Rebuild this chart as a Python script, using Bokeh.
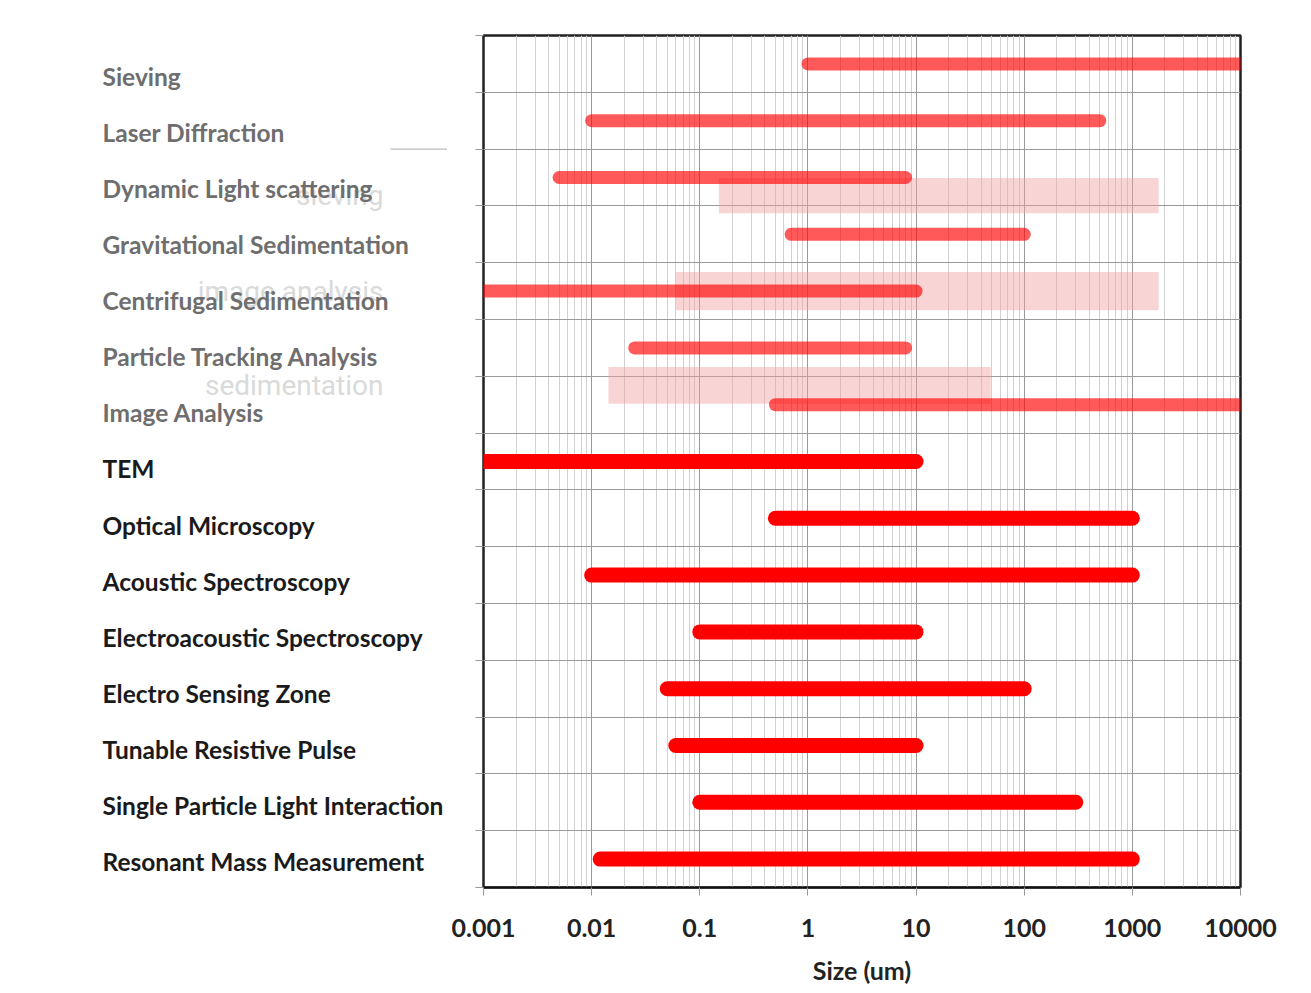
from bokeh.plotting import figure
from bokeh.models import Range1d, FixedTicker, CustomJSTickFormatter, ColumnDataSource
from bokeh.layouts import row
from bokeh.embed import file_html
from bokeh.resources import INLINE
from bokeh.core.properties import value

# ---------------- data ----------------
methods = [
    "Sieving", "Laser Diffraction", "Dynamic Light scattering",
    "Gravitational Sedimentation", "Centrifugal Sedimentation",
    "Particle Tracking Analysis", "Image Analysis",
    "TEM", "Optical Microscopy", "Acoustic  Spectroscopy",
    "Electroacoustic Spectroscopy", "Electro Sensing Zone",
    "Tunable Resistive Pulse", "Single Particle Light Interaction",
    "Resonant Mass  Measurement",
]
size_min = [1, 0.01, 0.005, 0.7, 0.001, 0.025, 0.5,
            0.001, 0.5, 0.01, 0.1, 0.05, 0.06, 0.1, 0.012]
size_max = [10000, 500, 8, 100, 10, 8, 10000,
            10, 1000, 1000, 10, 100, 10, 300, 1000]
n_faded = 7  # first 7 methods are drawn faded in the original

# faint "ghost" overlay remnants visible in the picture
ghost_labels = ["sieving", "image analysis", "sedimentation"]
ghost_lo = [0.15, 0.06, 0.0143]
ghost_hi = [1750, 1750, 49]
ghost_row = [2.82, 4.5, 6.16]
ghost_h = [0.62, 0.67, 0.65]

decades = [0.001, 0.01, 0.1, 1, 10, 100, 1000, 10000]

# ---------------- sources ----------------
rows_c = [i + 0.5 for i in range(len(methods))]
src_f = ColumnDataSource(dict(y=rows_c[:n_faded], x0=size_min[:n_faded], x1=size_max[:n_faded]))
src_s = ColumnDataSource(dict(y=rows_c[n_faded:], x0=size_min[n_faded:], x1=size_max[n_faded:]))
src_g = ColumnDataSource(dict(
    l=ghost_lo, r=ghost_hi,
    t=[g - h / 2 for g, h in zip(ghost_row, ghost_h)],
    b=[g + h / 2 for g, h in zip(ghost_row, ghost_h)],
    y=ghost_row, txt=ghost_labels))

FONT = "Lato"
H = 990
TOP = 35
BOT = 103
LW = 447          # width of the label panel
PL = 483 - LW     # left border of the chart

# ---------------- chart ----------------
p = figure(width=PL + 757 + 51, height=H, x_axis_type="log",
           x_range=Range1d(0.001, 10000), y_range=Range1d(len(methods), 0),
           output_backend="svg", toolbar_location=None,
           min_border_left=PL, min_border_right=51,
           min_border_top=TOP, min_border_bottom=BOT)
p.background_fill_color = "white"
p.border_fill_color = "white"
p.outline_line_color = "#222222"
p.outline_line_width = 2.5

minors = [d * k for d in decades[:-1] for k in range(2, 10)]
xt = FixedTicker(ticks=decades, minor_ticks=minors)
p.xaxis.ticker = xt
p.xgrid.ticker = xt
p.xgrid.grid_line_color = "#9a9a9a"
p.xgrid.grid_line_width = 1
p.xgrid.minor_grid_line_color = "#d2d2d2"
p.xgrid.minor_grid_line_width = 1

yt = FixedTicker(ticks=list(range(len(methods) + 1)))
p.yaxis.ticker = yt
p.ygrid.ticker = yt
p.ygrid.grid_line_color = "#9a9a9a"
p.ygrid.grid_line_width = 1
p.yaxis.formatter = CustomJSTickFormatter(code="return ''")
p.yaxis.axis_line_color = None
p.yaxis.major_tick_out = 8
p.yaxis.major_tick_in = 0
p.yaxis.minor_tick_out = 0
p.yaxis.minor_tick_in = 0
p.yaxis.major_tick_line_color = "#999999"
p.yaxis.major_label_text_font_size = "1px"

p.xaxis.formatter = CustomJSTickFormatter(code="return String(parseFloat(tick.toPrecision(3)))")
p.xaxis.axis_line_color = "#111111"
p.xaxis.axis_line_width = 2
p.xaxis.major_tick_out = 8
p.xaxis.major_tick_in = 0
p.xaxis.minor_tick_out = 0
p.xaxis.minor_tick_in = 0
p.xaxis.major_tick_line_color = "#999999"
p.xaxis.major_label_text_font = FONT
p.xaxis.major_label_text_font_style = "bold"
p.xaxis.major_label_text_font_size = "25px"
p.xaxis.major_label_text_color = "#222222"
p.xaxis.major_label_standoff = 23
p.xaxis.axis_label = "Size (um)"
p.xaxis.axis_label_text_font = FONT
p.xaxis.axis_label_text_font_style = "bold"
p.xaxis.axis_label_text_font_size = "25px"
p.xaxis.axis_label_text_color = "#222222"
p.xaxis.axis_label_standoff = 15

p.quad(left="l", right="r", top="t", bottom="b", source=src_g,
       fill_color="#f0a0a0", fill_alpha=0.45, line_color=None)
p.segment(x0="x0", y0="y", x1="x1", y1="y", source=src_f,
          line_color="#ff0000", line_alpha=0.65, line_width=13, line_cap="round")
p.segment(x0="x0", y0="y", x1="x1", y1="y", source=src_s,
          line_color="#ff0000", line_width=15, line_cap="round")

# ---------------- label panel ----------------
lab_h = float(H - TOP - BOT)
first_off = 41.0
spacing = 56.07
lab = figure(width=LW, height=H, x_range=Range1d(0, LW),
             y_range=Range1d((lab_h - first_off) / spacing, -first_off / spacing),
             x_axis_location=None, y_axis_location=None,
             output_backend="svg", toolbar_location=None,
             min_border_left=0, min_border_right=0,
             min_border_top=TOP, min_border_bottom=BOT)
lab.extra_y_ranges = {"rows": Range1d(len(methods), 0)}
lab.grid.visible = False
lab.outline_line_color = None
lab.background_fill_color = "white"
lab.border_fill_color = "white"

# ghost overlay bits
lab.segment(x0=[390], y0=[2], x1=[LW], y1=[2], y_range_name="rows",
            line_color="#aaaaaa", line_width=1)
lab.text(x=383, y="y", text="txt", source=src_g,
         y_range_name="rows", text_align="right", text_baseline="middle",
         text_font=value("Roboto"), text_font_size="28px", text_color="#dadada")

idx = list(range(len(methods)))
lab.text(x=[102] * n_faded, y=idx[:n_faded], text=methods[:n_faded],
         text_align="left", text_baseline="middle",
         text_font=value(FONT), text_font_style="bold",
         text_font_size="24.5px", text_color="#6e6e6e")
lab.text(x=[102] * (len(methods) - n_faded), y=idx[n_faded:], text=methods[n_faded:],
         text_align="left", text_baseline="middle",
         text_font=value(FONT), text_font_style="bold",
         text_font_size="24.5px", text_color="#1a1a1a")

layout = row(lab, p)
open("out.html", "w").write(file_html(layout, INLINE))
